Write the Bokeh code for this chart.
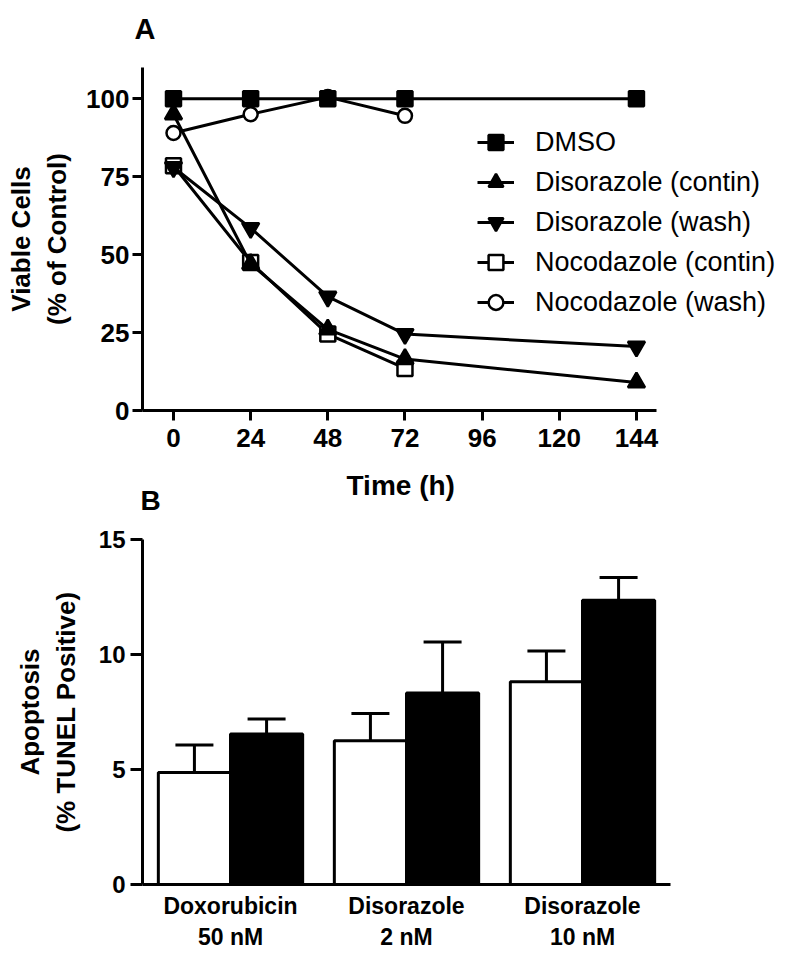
from bokeh.plotting import figure
from bokeh.models import (Range1d, FactorRange, FixedTicker, Legend, LegendItem,
                          Whisker, TeeHead, ColumnDataSource, Title)
from bokeh.transform import dodge
from bokeh.layouts import column
from bokeh.embed import file_html
from bokeh.resources import INLINE

FONT = "Liberation Sans"

# ---------------- Panel A data ----------------
time_full = [0, 24, 48, 72, 144]
time_noco = [0, 24, 48, 72]
dmso = [100, 100, 100, 100, 100]
disorazole_contin = [95, 47, 26, 16.5, 9]
disorazole_wash = [78, 58.5, 36.5, 24.5, 20.5]
nocodazole_contin = [78.5, 47.5, 24.5, 13.5]
nocodazole_wash = [89, 95, 100.5, 94.5]
time_ticks = [0, 24, 48, 72, 96, 120, 144]
viable_ticks = [0, 25, 50, 75, 100]

# ---------------- Panel B data ----------------
treatments = ["Doxorubicin\n50 nM", "Disorazole\n2 nM", "Disorazole\n10 nM"]
open_mean = [4.87, 6.25, 8.82]
open_upper = [6.07, 7.44, 10.15]
solid_mean = [6.54, 8.33, 12.36]
solid_upper = [7.2, 10.54, 13.35]
apoptosis_ticks = [0, 5, 10, 15]


def style_axis(ax, label_size, tick_out, label_standoff, axis_label_standoff):
    ax.axis_line_width = 3
    ax.axis_line_color = "black"
    ax.major_tick_line_width = 3
    ax.major_tick_line_color = "black"
    ax.major_tick_out = tick_out
    ax.major_tick_in = 0
    ax.minor_tick_out = 0
    ax.minor_tick_in = 0
    ax.major_label_text_font = FONT
    ax.major_label_text_font_style = "bold"
    ax.major_label_text_font_size = label_size
    ax.major_label_text_color = "black"
    ax.major_label_standoff = label_standoff
    ax.axis_label_text_font = FONT
    ax.axis_label_text_font_style = "bold"
    ax.axis_label_text_font_size = "26px"
    ax.axis_label_text_color = "black"
    ax.axis_label_standoff = axis_label_standoff


def style_title(t, size, offset, pad_top=0, pad_bottom=0):
    t.text_font = FONT
    t.text_font_style = "bold"
    t.text_font_size = size
    t.text_color = "black"
    t.align = "left"
    t.offset = offset
    t.padding = dict(left=0, right=0, top=pad_top, bottom=pad_bottom)


# ================= Panel A =================
PX_PER_H = 3.215
X0 = -9.64
FRAME_W_A = 642
pa = figure(title="A", frame_width=FRAME_W_A, frame_height=343,
            x_range=Range1d(X0, X0 + FRAME_W_A / PX_PER_H), y_range=Range1d(0, 110),
            min_border_left=142, min_border_right=0,
            min_border_top=67, min_border_bottom=90,
            output_backend="svg", toolbar_location=None)
style_title(pa.title, "29px", -8, pad_bottom=18)
pa.outline_line_color = None
pa.xgrid.visible = False
pa.ygrid.visible = False
pa.xaxis.ticker = FixedTicker(ticks=time_ticks)
pa.yaxis.ticker = FixedTicker(ticks=viable_ticks)
pa.xaxis.bounds = (X0, 150.3)
pa.yaxis.axis_label = "Viable Cells\n(% of Control)"
style_axis(pa.xaxis[0], "26px", 10, 8, 0)
style_axis(pa.yaxis[0], "26px", 10, 3, 11)

# x-axis caption, centred under the axis line (the frame is wider to host the legend)
time_title = Title(text="Time (h)")
style_title(time_title, "28px", 204, pad_top=13)
pa.add_layout(time_title, "below")

series = [
    ("Nocodazole (wash)", time_noco, nocodazole_wash, "circle", "white"),
    ("Nocodazole (contin)", time_noco, nocodazole_contin, "square", "white"),
    ("Disorazole (wash)", time_full, disorazole_wash, "inverted_triangle", "black"),
    ("Disorazole (contin)", time_full, disorazole_contin, "triangle", "black"),
    ("DMSO", time_full, dmso, "square", "black"),
]
sizes = {"circle": 14, "square": 15, "triangle": 17, "inverted_triangle": 17}
items = {}
for name, xs, ys, marker, fill in series:
    ln = pa.line(xs, ys, line_color="black", line_width=3)
    sc = pa.scatter(xs, ys, marker=marker, size=sizes[marker], fill_color=fill,
                    line_color="black", line_width=2.5)
    items[name] = LegendItem(label=name, renderers=[ln, sc])

legend_order = ["DMSO", "Disorazole (contin)", "Disorazole (wash)",
                "Nocodazole (contin)", "Nocodazole (wash)"]
legend = Legend(items=[items[n] for n in legend_order], location=(335, 88),
                glyph_width=37, glyph_height=40, label_height=40,
                label_standoff=21, spacing=0, padding=0, margin=0,
                border_line_color=None, background_fill_alpha=0,
                label_text_font=FONT, label_text_font_size="27px",
                label_text_color="black")
pa.add_layout(legend)

# ================= Panel B =================
pb = figure(title="B", frame_width=528, frame_height=345,
            x_range=FactorRange(*treatments, range_padding=0, factor_padding=0),
            y_range=Range1d(0, 15),
            min_border_left=142, min_border_right=114,
            min_border_top=72, min_border_bottom=66,
            output_backend="svg", toolbar_location=None)
pb.margin = (-38, 0, 0, 0)
pb.border_fill_alpha = 0
pb.background_fill_alpha = 0
style_title(pb.title, "28px", -2, pad_bottom=19)
pb.outline_line_color = None
pb.xgrid.visible = False
pb.ygrid.visible = False
pb.yaxis.ticker = FixedTicker(ticks=apoptosis_ticks)
pb.yaxis.axis_label = "Apoptosis\n(% TUNEL Positive)"
style_axis(pb.xaxis[0], "23px", 0, 8, 5)
style_axis(pb.yaxis[0], "24px", 12, 5, 15)

src = ColumnDataSource(dict(t=treatments, open_mean=open_mean, open_upper=open_upper,
                            solid_mean=solid_mean, solid_upper=solid_upper))

pb.vbar(x=dodge("t", -0.205, range=pb.x_range), top="open_mean", width=0.41,
        source=src, fill_color="white", line_color="black", line_width=3)
pb.vbar(x=dodge("t", 0.205, range=pb.x_range), top="solid_mean", width=0.41,
        source=src, fill_color="black", line_color="black", line_width=3)

for off, lo, hi in [(-0.205, "open_mean", "open_upper"), (0.205, "solid_mean", "solid_upper")]:
    pb.add_layout(Whisker(base=dodge("t", off, range=pb.x_range), lower=lo, upper=hi,
                          source=src, lower_head=None,
                          upper_head=TeeHead(size=38, line_width=3, line_color="black"),
                          line_width=3, line_color="black"))

layout = column(pa, pb)
open("out.html", "w").write(file_html(layout, INLINE))
